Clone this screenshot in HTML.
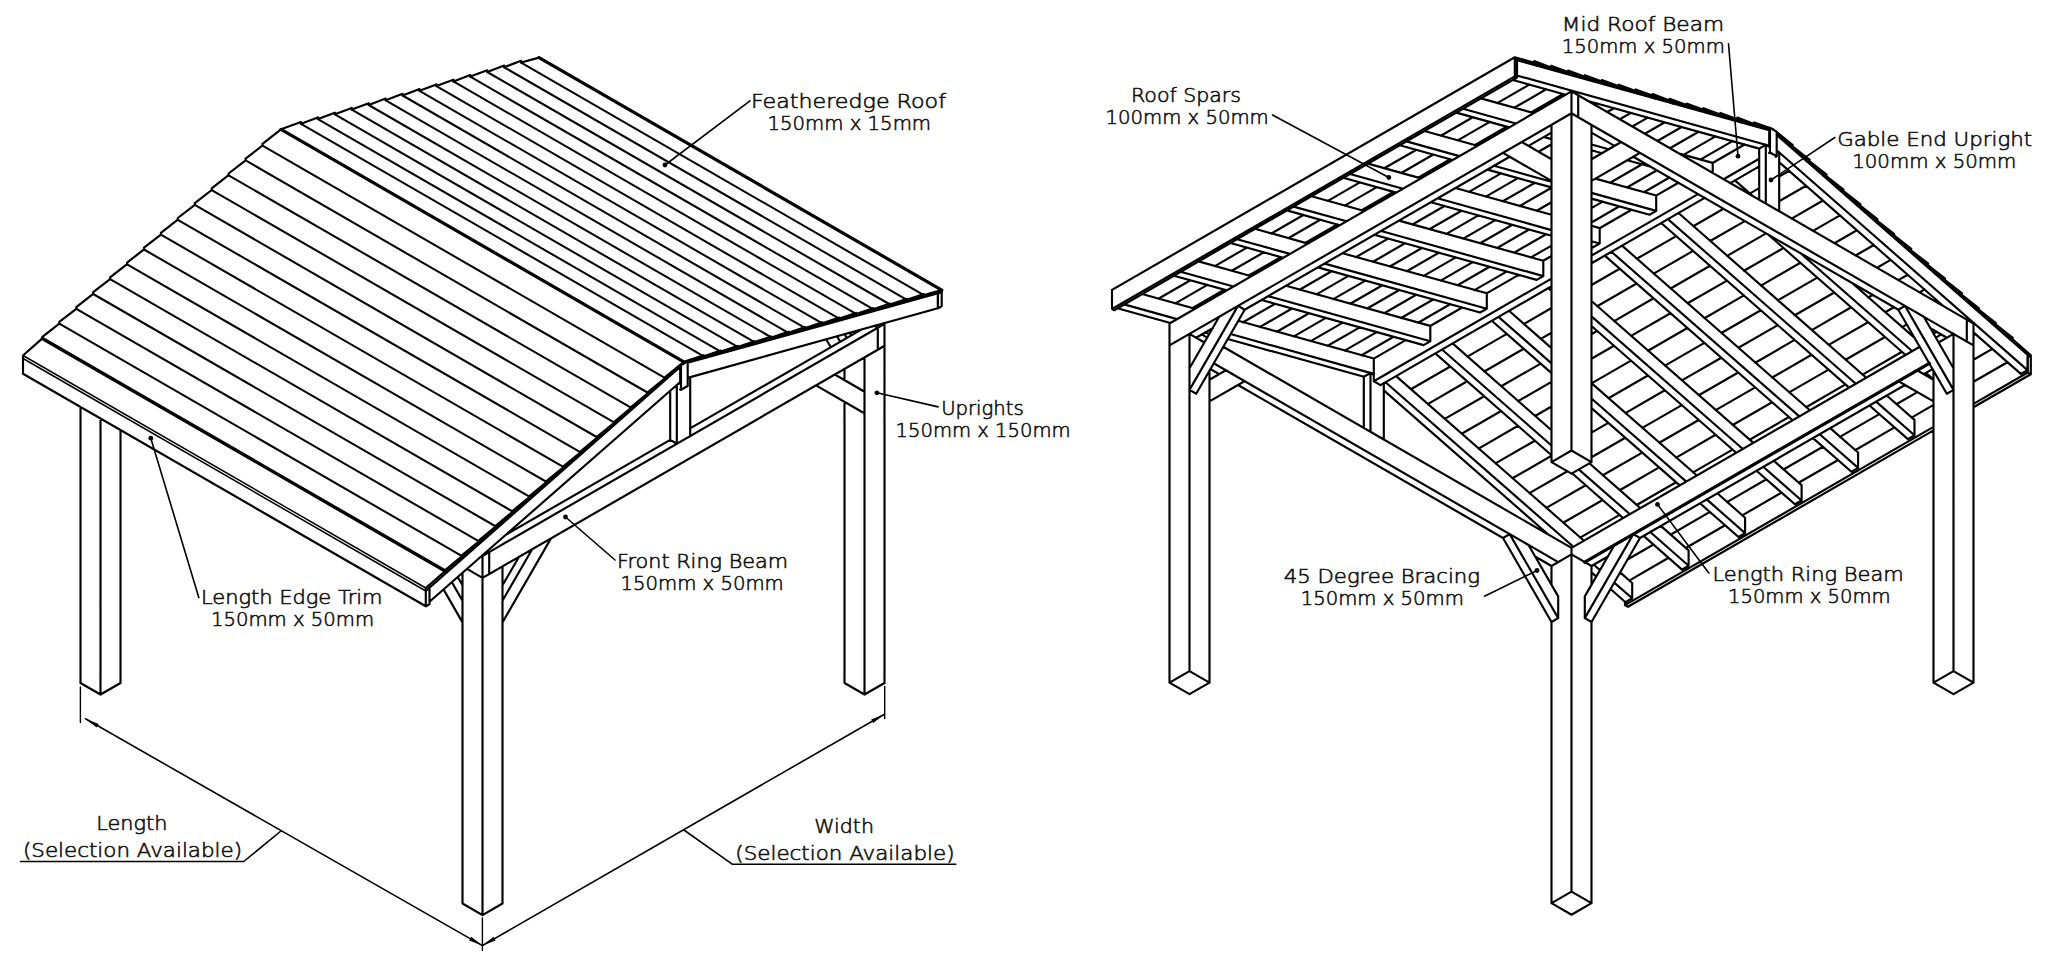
<!DOCTYPE html>
<html><head><meta charset="utf-8"><title>Gazebo specification drawing</title>
<style>
html,body{margin:0;padding:0;background:#fff;}
body{width:2048px;height:959px;overflow:hidden;}
svg{display:block;}
.ln path,.ln line,.ln polyline{fill:none;stroke:#000;stroke-linecap:round;stroke-linejoin:round;}
text{font-family:"DejaVu Sans","Liberation Sans",sans-serif;font-weight:200;fill:#111;}
</style></head><body>
<svg width="2048" height="959" viewBox="0 0 2048 959">
<rect width="2048" height="959" fill="#fff"/>
<g class="ln">
<path d="M80.5 683.0L100.5 694.5M100.5 694.5L120.5 683.0M100.5 418.5L100.5 694.5M80.5 683.0L80.5 406.9M120.5 430.0L120.5 683.0M100.5 418.5L100.5 671.5M462.5 903.5L482.5 915.1M482.5 915.1L502.5 903.5M482.5 577.9L466.9 568.9M502.5 566.4L482.5 577.9M482.5 577.9L482.5 915.1M462.5 903.5L462.5 572.7M502.5 566.4L502.5 903.5M482.5 577.9L482.5 892.0M844.5 683.0L864.5 694.5M864.5 694.5L884.5 683.0M884.5 345.8L864.5 357.4M864.5 357.4L864.5 694.5M844.5 683.0L844.5 401.8M844.5 380.1L844.5 368.9M884.5 345.8L884.5 683.0M864.5 357.4L864.5 671.5M482.5 577.9L489.2 574.1M482.5 556.0L482.0 555.7M489.2 552.1L482.5 556.0M487.3 551.0L489.2 552.1M482.5 556.0L482.5 577.9M489.2 552.1L489.2 574.1M849.0 333.0L852.2 334.9M877.8 349.7L884.5 345.8M877.8 327.7L874.6 325.9M884.5 323.9L877.8 327.7M883.6 323.4L884.5 323.9M877.8 327.7L877.8 349.7M884.5 323.9L884.5 345.8M489.2 574.1L877.8 349.7M877.8 327.7L489.2 552.1M505.7 534.9L670.2 439.9M690.1 428.4L861.3 329.6M482.5 570.2L482.5 556.0M23.0 358.5L23.0 355.5M683.8 361.9L425.8 588.0M683.8 363.0L683.8 361.9M425.8 591.0L680.4 366.8M425.8 588.0L425.8 591.0M683.8 361.9L941.8 290.1M941.8 292.1L687.7 362.8M941.8 290.1L941.8 292.1M23.0 373.8L425.8 606.3M425.8 606.3L429.5 604.2M429.5 588.5L425.8 590.6M428.9 588.2L429.5 588.5M425.8 590.6L425.8 606.3M23.0 373.8L23.0 358.5M429.5 588.5L429.5 604.2M938.0 308.3L941.7 306.2M941.7 291.8L938.0 293.9M938.0 293.9L938.0 308.3M941.7 291.8L941.7 306.2M680.1 389.3L681.0 389.8M681.0 389.8L687.7 386.0M681.0 365.2L680.4 364.9M687.7 361.4L681.0 365.2M687.1 361.0L687.7 361.4M681.0 365.2L681.0 389.8M687.7 361.4L687.7 386.0M680.2 382.0L680.2 367.0M429.5 601.7L680.2 382.0M429.2 587.9L429.2 588.4M937.8 308.3L687.7 377.9M937.8 293.2L937.8 308.3M670.2 439.9L676.8 443.8M676.8 443.8L690.2 436.1M690.2 377.2L687.7 378.7M680.2 383.0L676.8 384.9M676.8 384.9L676.8 443.8M670.2 439.9L670.2 390.7M690.2 377.2L690.2 436.1M462.5 622.4L443.5 589.4M451.8 582.1L462.5 600.7M462.5 600.7L462.5 622.4M462.5 585.3L457.7 577.0M518.9 556.9L502.5 585.3M551.0 538.4L502.5 622.4M532.2 549.2L551.0 538.4M502.5 600.7L532.2 549.2M502.5 622.4L502.5 600.7M844.5 371.1L843.6 369.4M830.8 347.2L826.2 339.3M837.0 336.3L840.2 341.8M846.8 338.0L844.7 334.2M864.5 390.3L864.5 368.6M857.8 409.5L816.0 385.4M834.8 374.5L857.8 387.8M816.0 385.4L864.5 413.4M834.8 374.5L816.0 385.4M864.5 391.7L834.8 374.5M864.5 413.4L864.5 391.7M857.8 409.5L864.5 413.4M864.5 391.7L857.8 387.8M683.8 361.8L665.2 377.1M665.2 378.1L648.3 391.9M648.3 392.9L631.4 406.8M631.4 407.7L614.5 421.6M614.5 422.6L597.5 436.4M597.5 437.4L580.6 451.3M580.6 452.3L563.7 466.1M563.7 467.1L546.7 480.9M546.7 481.9L529.8 495.8M529.8 496.8L512.9 510.6M512.9 511.6L495.9 525.5M495.9 526.4L479.0 540.3M479.0 541.3L462.1 555.1M462.1 556.1L445.2 570.0M445.2 571.0L425.7 588.0M683.8 361.8L703.8 355.3M703.8 356.3L720.7 350.6M720.7 351.6L737.6 345.9M737.6 346.9L754.5 341.2M754.5 342.1L771.5 336.5M771.5 337.4L788.4 331.7M788.4 332.7L805.3 327.0M805.3 328.0L822.3 322.3M822.3 323.3L839.2 317.6M839.2 318.6L856.1 312.9M856.1 313.9L873.1 308.2M873.1 309.2L890.0 303.5M890.0 304.5L906.9 298.8M906.9 299.7L923.8 294.1M923.8 295.0L941.8 290.1M281.0 129.3L262.5 143.9M262.5 143.9L262.5 145.6M262.5 145.5L245.6 158.7M245.6 158.7L245.6 160.4M245.6 160.4L228.6 173.5M228.6 173.5L228.6 175.3M228.6 175.2L211.7 188.4M211.7 188.4L211.7 190.1M211.7 190.0L194.8 203.2M194.8 203.2L194.8 204.9M194.8 204.9L177.8 218.0M177.8 218.0L177.8 219.8M177.8 219.7L160.9 232.9M160.9 232.9L160.9 234.6M160.9 234.6L144.0 247.7M144.0 247.7L144.0 249.5M144.0 249.4L127.1 262.6M127.1 262.6L127.1 264.3M127.1 264.2L110.1 277.4M110.1 277.4L110.1 279.1M110.1 279.1L93.2 292.2M93.2 292.2L93.2 294.0M93.2 293.9L76.3 307.1M76.3 307.1L76.3 308.8M76.3 308.8L59.3 321.9M59.3 321.9L59.3 323.6M59.3 323.6L42.4 336.8M42.4 336.8L42.4 338.5M42.4 338.4L23.0 355.5M281.0 129.3L301.0 122.1M301.0 122.1L301.0 123.8M301.0 123.8L317.9 117.4M317.9 117.4L317.9 119.1M317.9 119.0L334.9 112.7M334.9 112.7L334.9 114.4M334.9 114.3L351.8 107.9M351.8 107.9L351.8 109.7M351.8 109.6L368.7 103.2M368.7 103.2L368.7 105.0M368.7 104.9L385.7 98.5M385.7 98.5L385.7 100.3M385.7 100.2L402.6 93.8M402.6 93.8L402.6 95.5M402.6 95.5L419.5 89.1M419.5 89.1L419.5 90.8M419.5 90.8L436.4 84.4M436.4 84.4L436.4 86.1M436.4 86.1L453.4 79.7M453.4 79.7L453.4 81.4M453.4 81.4L470.3 75.0M470.3 75.0L470.3 76.7M470.3 76.6L487.2 70.3M487.2 70.3L487.2 72.0M487.2 71.9L504.2 65.5M504.2 65.5L504.2 67.3M504.2 67.2L521.1 60.8M521.1 60.8L521.1 62.6M521.1 62.5L539.0 57.6" stroke-width="2.15"/>
<path d="M281.0 129.4L683.8 361.9M539.0 57.6L941.8 290.1" stroke-width="3.22"/>
<path d="M23.0 355.5L425.8 588.0M425.8 591.0L23.0 358.5" stroke-width="1.50"/>
<path d="M262.5 145.6L665.2 378.1M245.6 160.4L648.3 393.0M228.6 175.3L631.4 407.8M211.7 190.1L614.5 422.6M194.8 204.9L597.5 437.5M177.8 219.8L580.6 452.3M160.9 234.6L563.7 467.1M144.0 249.5L546.7 482.0M127.1 264.3L529.8 496.8M110.1 279.1L512.9 511.7M93.2 294.0L495.9 526.5M76.3 308.8L479.0 541.3M59.3 323.6L462.1 556.2M301.0 123.8L703.8 356.3M317.9 119.1L720.7 351.6M334.9 114.4L737.6 346.9M351.8 109.7L754.5 342.2M368.7 105.0L771.5 337.5M385.7 100.3L788.4 332.8M402.6 95.5L805.3 328.1M419.5 90.8L822.3 323.4M436.4 86.1L839.2 318.7M453.4 81.4L856.1 313.9M470.3 76.7L873.1 309.2M487.2 72.0L890.0 304.5M504.2 67.3L906.9 299.8M521.1 62.6L923.8 295.1" stroke-width="2.04"/>
<path d="M42.4 338.5L445.2 571.0" stroke-width="3.44"/>
<path d="M1169.5 682.6L1189.5 671.1M1189.5 671.1L1209.5 682.6M1209.5 682.6L1189.5 694.1M1189.5 694.1L1169.5 682.6M1189.5 333.9L1169.5 345.4M1204.4 342.5L1189.5 333.9M1189.5 333.9L1189.5 671.1M1169.5 682.6L1169.5 345.4M1209.5 370.6L1209.5 682.6M1189.5 357.0L1189.5 671.1M1551.5 903.1L1571.5 891.6M1571.5 891.6L1591.5 903.1M1591.5 903.1L1571.5 914.7M1571.5 914.7L1551.5 903.1M1571.5 554.4L1551.5 566.0M1591.5 566.0L1571.5 554.4M1571.5 554.4L1571.5 891.6M1551.5 903.1L1551.5 621.9M1551.5 584.9L1551.5 566.0M1591.5 566.0L1591.5 584.9M1591.5 621.9L1591.5 903.1M1571.5 577.5L1571.5 891.6M1551.5 462.1L1571.5 450.5M1571.5 450.5L1591.5 462.1M1591.5 462.1L1571.5 473.6M1571.5 473.6L1551.5 462.1M1571.5 113.3L1551.5 124.9M1591.5 124.9L1571.5 113.3M1571.5 113.3L1571.5 450.5M1551.5 462.1L1551.5 124.9M1591.5 124.9L1591.5 462.1M1571.5 136.4L1571.5 450.5M1933.5 682.6L1953.5 671.1M1953.5 671.1L1973.5 682.6M1973.5 682.6L1953.5 694.1M1953.5 694.1L1933.5 682.6M1953.5 333.9L1938.6 342.5M1973.5 345.4L1953.5 333.9M1953.5 333.9L1953.5 671.1M1933.5 682.6L1933.5 370.6M1973.5 345.4L1973.5 682.6M1953.5 357.0L1953.5 671.1M1169.5 345.4L1571.5 113.3M1571.5 113.3L1578.2 117.2M1551.5 132.6L1528.5 145.9M1509.7 156.7L1244.6 309.7M1212.6 328.3L1196.1 337.7M1571.5 91.4L1169.5 323.5M1578.2 95.2L1571.5 91.4M1571.5 91.4L1571.5 113.3M1169.5 345.4L1169.5 323.5M1578.2 95.2L1578.2 117.2M1966.8 341.6L1973.5 345.4M1932.6 369.0L1923.8 374.1M1905.0 385.0L1640.0 538.0M1607.9 556.5L1591.5 566.0M1941.2 334.4L1935.8 337.6M1919.8 346.8L1571.5 547.9M1973.5 323.5L1966.8 319.6M1966.8 319.6L1966.8 341.6M1973.5 323.5L1973.5 345.4M1213.7 363.3L1558.2 562.1M1551.5 566.0L1535.1 556.5M1503.0 538.0L1238.0 385.0M1219.2 374.1L1210.4 369.0M1571.5 547.9L1223.2 346.8M1207.2 337.6L1201.8 334.4M1571.5 547.9L1571.5 554.5M1578.2 117.2L1966.8 341.6M1946.9 337.7L1930.4 328.3M1898.4 309.7L1633.3 156.7M1614.5 145.9L1591.5 132.6M1966.8 319.6L1578.2 95.2M1571.5 113.4L1571.5 99.1M1772.8 129.1L1771.5 128.8M1769.5 128.2L1514.9 57.4M1772.8 129.5L1772.8 129.1M1514.9 59.3L1769.4 130.2M1514.9 57.4L1514.9 59.3M1772.8 129.1L1774.0 130.3M1776.7 132.6L2030.6 355.1M2030.6 357.1L1776.7 134.5M2030.6 355.1L2030.6 357.1M1112.0 308.9L1514.8 76.4M1514.8 76.4L1517.0 77.6M1517.0 77.6L1114.2 310.2M1114.2 310.2L1112.0 308.9M1514.8 57.3L1112.0 289.9M1517.0 58.6L1514.8 57.3M1514.8 57.3L1514.8 76.4M1112.0 308.9L1112.0 289.9M1517.0 58.6L1517.0 77.6M1625.0 605.1L1933.5 426.9M1973.5 403.9L2027.8 372.5M2027.8 372.5L2030.8 374.3M2030.8 374.3L1973.5 407.3M1933.5 430.4L1628.0 606.8M1628.0 606.8L1625.0 605.1M2030.8 355.2L2027.8 353.5M2027.8 353.5L2027.8 372.5M1625.0 605.1L1625.0 601.7M2030.8 355.2L2030.8 374.3M1373.8 381.2L1551.5 278.6M1591.5 255.6L1698.0 194.1M1723.6 179.3L1759.2 158.7M1769.1 153.0L1770.0 152.5M1770.0 152.5L1776.7 156.3M1776.7 156.3L1775.8 156.8M1759.2 166.4L1730.3 183.1M1704.7 197.9L1591.5 263.3M1551.5 286.3L1380.5 385.1M1380.5 385.1L1373.8 381.2M1770.0 127.9L1769.4 128.3M1776.7 131.8L1770.0 127.9M1770.0 127.9L1770.0 152.5M1373.8 381.2L1373.8 358.5M1776.7 131.8L1776.7 156.3M1363.9 376.8L1227.8 339.0M1209.3 333.8L1205.0 332.6M1170.4 323.0L1117.4 308.3M1373.8 358.5L1238.2 320.8M1195.0 308.8L1142.1 294.0M1373.8 373.9L1373.8 358.5M1124.1 304.4L1177.1 319.1M1211.6 328.8L1212.2 328.9M1230.6 334.0L1373.8 373.9M1373.8 373.9L1373.0 374.4M1373.8 366.2L1373.8 374.9M1383.8 390.4L1548.3 534.5M1591.5 572.4L1596.3 576.6M1610.5 589.0L1625.5 602.2M1396.1 376.1L1584.0 540.7M1604.3 558.6L1605.9 559.9M1620.1 572.4L1632.2 583.0M1632.2 598.3L1614.2 582.6M1600.0 570.1L1593.8 564.7M1573.4 546.8L1385.5 382.2M1632.2 583.0L1632.2 598.3M1632.2 598.3L1625.5 602.2M1423.6 345.1L1261.5 300.0M1226.9 290.4L1173.9 275.7M1430.3 325.9L1286.1 285.8M1251.5 276.2L1198.5 261.4M1430.3 341.3L1430.3 325.9M1180.6 271.8L1233.5 286.5M1268.1 296.2L1430.3 341.3M1430.3 341.3L1423.6 345.1M1435.3 353.4L1551.5 455.2M1572.1 473.2L1623.2 518.1M1643.6 535.9L1682.0 569.6M1452.6 343.4L1551.5 430.2M1589.3 463.3L1640.4 508.1M1660.8 525.9L1688.6 550.4M1688.6 565.7L1650.2 532.0M1629.9 514.2L1578.7 469.4M1551.5 445.5L1442.0 349.5M1688.6 550.4L1688.6 565.7M1688.6 565.7L1682.0 569.6M1480.1 312.5L1317.9 267.4M1283.3 257.8L1230.4 243.0M1486.8 293.3L1342.5 253.2M1308.0 243.6L1255.0 228.8M1486.8 308.7L1486.8 293.3M1237.1 239.2L1290.0 253.9M1324.6 263.6L1486.8 308.7M1486.8 308.7L1480.1 312.5M1491.8 320.8L1551.5 373.1M1591.5 408.1L1679.7 485.4M1700.0 503.3L1738.5 537.0M1509.0 310.8L1551.5 348.1M1591.5 383.1L1696.9 475.5M1717.3 493.3L1745.1 517.7M1745.1 533.1L1706.7 499.4M1686.3 481.6L1591.5 398.5M1551.5 363.4L1498.5 316.9M1745.1 517.7L1745.1 533.1M1745.1 533.1L1738.5 537.0M1536.6 279.9L1374.4 234.8M1339.8 225.2L1286.9 210.4M1543.3 260.7L1399.0 220.6M1364.4 211.0L1311.5 196.2M1543.3 276.1L1543.3 260.7M1293.5 206.6L1346.5 221.3M1381.1 231.0L1543.3 276.1M1543.3 276.1L1536.6 279.9M1548.3 288.2L1551.5 291.0M1591.5 326.0L1736.2 452.8M1756.5 470.7L1794.9 504.3M1591.5 301.0L1753.4 442.9M1773.7 460.7L1801.6 485.1M1801.6 500.5L1763.2 466.8M1742.8 449.0L1591.5 316.4M1801.6 485.1L1801.6 500.5M1801.6 500.5L1794.9 504.3M1593.1 247.3L1591.5 246.9M1551.5 235.8L1430.9 202.2M1396.3 192.6L1343.3 177.8M1599.7 228.1L1591.5 225.8M1551.5 214.7L1455.5 188.0M1420.9 178.4L1368.0 163.6M1599.7 243.5L1599.7 228.1M1350.0 174.0L1403.0 188.7M1437.5 198.3L1551.5 230.1M1591.5 241.2L1599.7 243.5M1599.7 243.5L1593.1 247.3M1604.8 255.6L1792.6 420.2M1813.0 438.1L1851.4 471.7M1622.0 245.6L1809.9 410.3M1830.2 428.1L1858.1 452.5M1858.1 467.9L1819.7 434.2M1799.3 416.4L1611.4 251.7M1858.1 452.5L1858.1 467.9M1858.1 467.9L1851.4 471.7M1649.5 214.7L1591.5 198.6M1551.5 187.4L1487.4 169.6M1452.8 160.0L1399.8 145.2M1656.2 195.5L1595.4 178.6M1477.4 145.8L1424.4 131.0M1656.2 210.9L1656.2 195.5M1406.5 141.4L1459.4 156.1M1494.0 165.7L1551.5 181.7M1591.5 192.9L1656.2 210.9M1656.2 210.9L1649.5 214.7M1661.2 223.0L1849.1 387.6M1869.5 405.5L1907.9 439.1M1678.5 213.0L1866.3 377.7M1886.7 395.5L1914.5 419.9M1914.5 435.3L1876.1 401.6M1855.8 383.8L1667.9 219.1M1914.5 419.9L1914.5 435.3M1914.5 435.3L1907.9 439.1M1650.7 166.7L1627.3 160.2M1601.9 153.2L1591.5 150.2M1551.5 139.1L1543.8 137.0M1509.2 127.4L1456.3 112.6M1712.7 162.9L1679.2 153.6M1533.9 113.1L1480.9 98.4M1712.7 172.9L1712.7 162.9M1463.0 108.8L1515.9 123.5M1550.5 133.1L1551.5 133.4M1591.5 144.5L1608.6 149.3M1768.1 234.5L1905.6 355.0M1925.9 372.9L1933.5 379.5M1734.9 180.4L1752.9 196.1M1851.8 282.8L1914.6 337.9M1912.3 351.2L1800.5 253.2M1759.2 148.6L1588.0 101.0M1565.7 94.8L1512.8 80.0M1769.2 130.3L1516.9 60.1M1769.2 145.7L1769.2 130.3M1516.9 75.5L1769.2 145.7M1769.2 145.7L1768.3 146.2M1779.1 162.1L1943.6 306.3M1973.5 332.4L2020.8 373.9M1776.7 134.9L2027.5 354.7M2027.5 370.1L1776.7 150.2M2027.5 354.7L2027.5 370.1M2027.5 370.1L2020.8 373.9M1370.5 431.8L1383.8 439.5M1370.5 373.0L1363.8 376.8M1373.9 374.9L1370.5 373.0M1370.5 373.0L1370.5 431.8M1363.8 428.0L1363.8 376.8M1383.8 383.1L1383.8 439.5M1765.8 203.6L1779.2 211.3M1765.8 144.7L1759.2 148.6M1779.2 152.4L1776.7 151.0M1769.2 146.7L1765.8 144.7M1765.8 144.7L1765.8 203.6M1759.2 199.8L1759.2 148.6M1779.2 152.4L1779.2 211.3M1189.5 389.9L1238.0 305.9M1238.0 305.9L1219.2 316.7M1219.2 316.7L1189.5 368.2M1189.5 368.2L1189.5 389.9M1244.7 309.7L1196.2 393.7M1244.7 309.7L1238.0 305.9M1189.5 389.9L1196.2 393.7M1209.5 401.4L1238.0 385.0M1219.2 374.1L1209.5 379.7M1189.5 391.3L1189.5 413.0M1244.7 381.1L1209.5 401.4M1225.9 370.3L1244.7 381.1M1209.5 379.7L1225.9 370.3M1244.7 381.1L1238.0 385.0M1225.9 370.3L1219.2 374.1M1584.8 618.1L1633.3 534.1M1633.3 534.1L1614.5 545.0M1614.5 545.0L1584.8 596.4M1584.8 596.4L1584.8 618.1M1640.0 538.0L1591.5 622.0M1640.0 538.0L1633.3 534.1M1584.8 618.1L1591.5 622.0M1551.5 622.0L1503.0 538.0M1509.7 534.1L1558.2 618.1M1528.5 545.0L1509.7 534.1M1558.2 596.4L1528.5 545.0M1558.2 618.1L1558.2 596.4M1509.7 534.1L1503.0 538.0M1551.5 622.0L1558.2 618.1M1551.5 180.9L1503.0 152.9M1503.0 152.9L1521.8 142.0M1521.8 142.0L1551.5 159.2M1551.5 159.2L1551.5 180.9M1509.7 156.7L1551.5 180.9M1551.5 159.2L1528.5 145.9M1509.7 156.7L1503.0 152.9M1528.5 145.9L1521.8 142.0M1591.5 180.9L1633.3 156.7M1614.5 145.9L1591.5 159.2M1640.0 152.9L1591.5 180.9M1621.2 142.0L1640.0 152.9M1591.5 159.2L1621.2 142.0M1591.5 180.9L1591.5 159.2M1640.0 152.9L1633.3 156.7M1621.2 142.0L1614.5 145.9M1933.5 401.4L1898.3 381.1M1898.3 381.1L1917.1 370.3M1917.1 370.3L1933.5 379.7M1905.0 385.0L1933.5 401.4M1933.5 379.7L1923.8 374.1M1953.5 413.0L1953.5 391.3M1905.0 385.0L1898.3 381.1M1923.8 374.1L1917.1 370.3M1946.8 393.7L1898.3 309.7M1905.0 305.9L1953.5 389.9M1923.8 316.7L1905.0 305.9M1953.5 368.2L1923.8 316.7M1953.5 389.9L1953.5 368.2M1905.0 305.9L1898.3 309.7M1946.8 393.7L1953.5 389.9M1361.6 355.3L1393.6 336.8M1418.1 322.7L1450.1 304.2M1474.5 290.1L1506.6 271.6M1531.0 257.4L1551.5 245.6M1591.5 222.5L1619.5 206.3M1644.0 192.2L1669.4 177.5M1700.4 159.6L1732.5 141.1M1756.9 127.0L1757.3 126.8M1344.7 350.6L1376.7 332.1M1401.1 318.0L1433.2 299.5M1457.6 285.3L1489.6 266.8M1514.1 252.7L1546.1 234.2M1591.5 208.1L1602.6 201.6M1627.0 187.5L1656.9 170.3M1683.5 154.9L1715.5 136.4M1740.0 122.3L1740.4 122.1M1327.7 345.8L1359.8 327.4M1384.2 313.2L1416.2 294.7M1440.7 280.6L1472.7 262.1M1497.2 248.0L1529.2 229.5M1610.1 182.8L1642.1 164.3M1670.0 148.3L1698.6 131.7M1723.1 117.6L1723.5 117.4M1310.8 341.1L1342.8 322.6M1367.3 308.5L1399.3 290.0M1423.7 275.9L1455.8 257.4M1480.2 243.3L1512.3 224.8M1536.7 210.7L1551.5 202.2M1657.4 141.0L1681.7 127.0M1706.1 112.9L1706.5 112.7M1293.9 336.4L1325.9 317.9M1350.3 303.8L1382.4 285.3M1406.8 271.2L1438.9 252.7M1463.3 238.6L1495.3 220.1M1519.8 206.0L1551.5 187.7M1644.9 133.8L1664.8 122.3M1689.2 108.2L1689.6 107.9M1276.9 331.7L1309.0 313.2M1333.4 299.1L1365.4 280.6M1389.9 266.5L1421.9 248.0M1446.4 233.9L1478.4 215.4M1502.8 201.3L1534.9 182.8M1632.3 126.5L1647.8 117.6M1672.3 103.5L1672.7 103.2M1260.0 327.0L1292.0 308.5M1316.5 294.4L1348.5 275.9M1373.0 261.8L1405.0 243.3M1429.4 229.2L1461.5 210.7M1485.9 196.6L1517.9 178.1M1551.1 158.9L1551.5 158.7M1619.8 119.3L1630.9 112.9M1655.3 98.8L1655.7 98.5M1243.1 322.3L1275.1 303.8M1299.6 289.7L1331.6 271.2M1356.0 257.1L1388.1 238.6M1412.5 224.5L1444.5 206.0M1469.0 191.9L1501.0 173.4M1538.5 151.7L1551.5 144.2M1607.2 112.0L1614.0 108.2M1638.4 94.0L1638.8 93.8M1594.7 104.8L1597.0 103.4M1621.5 89.3L1621.9 89.1M1604.6 84.6L1605.0 84.4M1192.3 308.2L1224.3 289.7M1248.8 275.5L1280.8 257.1M1305.2 242.9L1337.3 224.4M1361.7 210.3L1393.8 191.8M1418.2 177.7L1450.2 159.2M1474.7 145.1L1506.7 126.6M1531.1 112.5L1563.2 94.0M1587.6 79.9L1588.0 79.7M1175.4 303.4L1207.4 284.9M1231.8 270.8L1263.9 252.3M1288.3 238.2L1320.3 219.7M1344.8 205.6L1376.8 187.1M1401.3 173.0L1433.3 154.5M1457.7 140.4L1489.8 121.9M1514.2 107.8L1546.2 89.3M1570.7 75.2L1571.1 75.0M1158.4 298.7L1190.5 280.2M1214.9 266.1L1246.9 247.6M1271.4 233.5L1303.4 215.0M1327.9 200.9L1359.9 182.4M1384.3 168.3L1416.4 149.8M1440.8 135.7L1472.8 117.2M1497.3 103.1L1529.3 84.6M1553.8 70.5L1554.2 70.3M1536.8 65.8L1537.2 65.5M1789.3 146.2L1789.7 145.9M1410.9 389.2L1450.3 366.5M1467.4 356.6L1506.8 333.9M1523.8 324.0L1551.5 308.0M1591.5 285.0L1619.7 268.7M1636.8 258.8L1676.2 236.1M1693.3 226.2L1723.5 208.8M1749.7 193.6L1759.2 188.1M1779.1 176.6L1789.1 170.8M1806.2 161.0L1806.6 160.8M1427.8 404.1L1467.2 381.3M1484.3 371.5L1523.7 348.7M1540.8 338.9L1551.5 332.7M1597.2 306.3L1636.6 283.5M1653.7 273.6L1693.1 250.9M1710.2 241.0L1744.8 221.1M1779.1 201.2L1806.1 185.7M1823.1 175.8L1823.5 175.6M1444.7 418.9L1484.2 396.2M1501.2 386.3L1540.6 363.6M1591.5 334.2L1597.1 330.9M1614.2 321.1L1653.6 298.3M1670.6 288.5L1710.1 265.7M1727.1 255.9L1766.1 233.4M1791.7 218.6L1823.0 200.5M1840.1 190.7L1840.5 190.4M1461.7 433.8L1501.1 411.0M1518.1 401.1L1551.5 381.9M1591.5 358.8L1614.0 345.8M1631.1 335.9L1670.5 313.2M1687.6 303.3L1727.0 280.6M1744.0 270.7L1783.5 248.0M1813.1 230.9L1839.9 215.4M1857.0 205.5L1857.4 205.3M1478.6 448.6L1518.0 425.8M1535.1 416.0L1551.5 406.5M1591.5 383.4L1631.0 360.6M1648.0 350.8L1687.4 328.0M1704.5 318.2L1743.9 295.4M1761.0 285.6L1800.4 262.8M1834.4 243.2L1856.9 230.2M1873.9 220.3L1874.3 220.1M1495.5 463.4L1534.9 440.7M1608.5 398.2L1647.9 375.5M1665.0 365.6L1704.4 342.9M1721.4 333.0L1760.8 310.2M1777.9 300.4L1817.3 277.6M1855.7 255.5L1873.8 245.0M1890.9 235.2L1891.3 235.0M1512.5 478.3L1551.5 455.7M1591.5 432.6L1608.3 422.9M1625.4 413.1L1664.8 390.3M1681.9 380.4L1721.3 357.7M1738.4 347.8L1777.8 325.1M1794.8 315.2L1834.3 292.5M1877.0 267.8L1890.7 259.9M1907.8 250.0L1908.2 249.8M1529.4 493.1L1567.4 471.2M1591.5 457.3L1625.3 437.7M1642.3 427.9L1681.8 405.1M1698.8 395.3L1738.2 372.5M1755.3 362.7L1794.7 339.9M1811.8 330.1L1851.2 307.3M1868.2 297.5L1872.7 294.9M1898.3 280.1L1907.7 274.7M1924.7 264.9L1925.1 264.6M1546.3 507.9L1585.7 485.2M1602.8 475.3L1642.2 452.6M1659.3 442.7L1698.7 420.0M1715.7 410.1L1755.2 387.4M1772.2 377.5L1811.6 354.8M1828.7 344.9L1868.1 322.2M1885.2 312.3L1894.0 307.2M1919.6 292.4L1924.6 289.5M1941.6 279.7L1942.1 279.5M1563.2 522.8L1602.7 500.0M1619.7 490.2L1659.1 467.4M1676.2 457.6L1715.6 434.8M1732.7 425.0L1772.1 402.2M1789.2 392.4L1828.6 369.6M1845.6 359.7L1885.0 337.0M1902.1 327.1L1906.8 324.4M1940.9 304.7L1941.5 304.4M1958.6 294.5L1959.0 294.3M1580.2 537.6L1619.6 514.9M1636.7 505.0L1676.1 482.3M1693.1 472.4L1732.5 449.6M1749.6 439.8L1789.0 417.0M1806.1 407.2L1845.5 384.4M1862.6 374.6L1902.0 351.8M1933.5 333.6L1936.6 331.8M1975.5 309.4L1975.9 309.1M1973.5 335.2L1975.4 334.1M1992.4 324.2L1992.8 324.0M1627.6 559.5L1653.5 544.5M1670.5 534.7L1709.9 511.9M1727.0 502.1L1766.4 479.3M1783.5 469.5L1822.9 446.7M1839.9 436.9L1879.4 414.1M1896.4 404.3L1917.4 392.1M1973.5 359.8L1992.3 348.9M2009.4 339.0L2009.8 338.8M1629.2 580.6L1668.6 557.8M1685.7 548.0L1725.1 525.2M1742.2 515.4L1781.6 492.6M1798.6 482.8L1838.1 460.0M1855.1 450.2L1894.5 427.4M1911.6 417.6L1933.5 404.9M1973.5 381.8L2007.5 362.2M2024.5 352.3L2025.0 352.1M1772.8 129.1L1770.7 128.3M1769.9 128.0L1754.2 122.4M1754.2 123.9L1737.3 117.6M1737.3 119.2L1720.4 112.9M1720.4 114.5L1703.5 108.2M1703.5 109.8L1686.5 103.5M1686.5 105.1L1669.6 98.8M1669.6 100.4L1652.7 94.1M1652.7 95.6L1635.7 89.4M1635.7 90.9L1618.8 84.7M1618.8 86.2L1601.9 80.0M1601.9 81.5L1585.0 75.2M1585.0 76.8L1568.0 70.5M1568.0 72.1L1551.1 65.8M1551.1 67.4L1534.2 61.1M1534.2 62.7L1514.8 57.3M1772.8 129.1L1774.8 130.7M1776.7 132.2L1792.8 145.0M1792.8 146.6L1809.7 159.9M1809.7 161.4L1826.6 174.7M1826.6 176.3L1843.5 189.5M1843.5 191.1L1860.5 204.4M1860.5 205.9L1877.4 219.2M1877.4 220.8L1894.3 234.1M1894.3 235.6L1911.3 248.9M1911.3 250.5L1928.2 263.7M1928.2 265.3L1945.1 278.6M1945.1 280.1L1962.1 293.4M1962.1 295.0L1979.0 308.3M1979.0 309.8L1995.9 323.1M1995.9 324.6L2012.8 337.9M2012.8 339.5L2030.8 355.2M1373.8 358.6L1405.7 340.1M1430.2 326.0L1462.2 307.5M1486.6 293.4L1518.7 274.9M1543.1 260.8L1551.5 256.0M1599.6 228.2L1631.6 209.7M1656.1 195.6L1678.4 182.7M1712.6 163.0L1744.6 144.5M1769.0 130.4L1769.4 130.2" stroke-width="2.15"/>
<path d="M1584.8 562.1L1929.3 363.3" stroke-width="3.22"/>
</g>
<g class="ln" stroke-width="1.6">
<line x1="750.0" y1="100.8" x2="665.0" y2="165.0" stroke-width="1.6"/>
<line x1="938.1" y1="406.9" x2="876.9" y2="392.8" stroke-width="1.6"/>
<line x1="615.0" y1="560.0" x2="565.5" y2="517.0" stroke-width="1.6"/>
<line x1="198.8" y1="597.5" x2="150.8" y2="438.2" stroke-width="1.6"/>
<line x1="1272.5" y1="115.0" x2="1388.8" y2="177.5" stroke-width="1.6"/>
<line x1="1728.5" y1="43.8" x2="1738.0" y2="156.2" stroke-width="1.6"/>
<line x1="1834.8" y1="137.5" x2="1771.0" y2="180.0" stroke-width="1.6"/>
<line x1="1484.5" y1="596.2" x2="1537.0" y2="570.5" stroke-width="1.6"/>
<line x1="1708.8" y1="573.0" x2="1657.5" y2="504.4" stroke-width="1.6"/>
<line x1="85.5" y1="718.8" x2="482.4" y2="945.6" stroke-width="1.6"/>
<line x1="482.4" y1="945.6" x2="884.4" y2="714.2" stroke-width="1.6"/>
<line x1="80.4" y1="687.0" x2="80.4" y2="722.5" stroke-width="1.4"/>
<line x1="482.4" y1="918.0" x2="482.4" y2="950.5" stroke-width="1.4"/>
<line x1="884.7" y1="686.5" x2="884.7" y2="718.5" stroke-width="1.4"/>
<polyline points="20.5,861.5 243.75,861.5 281.25,830.75" stroke-width="1.6"/>
<polyline points="955.8,864.2 732.2,864.2 683.9,830" stroke-width="1.6"/>
</g>
<polygon points="85.5,718.8 96.6,727.6 98.7,723.9" fill="#000"/>
<polygon points="482.4,945.6 471.3,936.8 469.2,940.5" fill="#000"/>
<polygon points="482.4,945.6 495.6,940.4 493.5,936.8" fill="#000"/>
<polygon points="884.4,714.2 871.2,719.4 873.3,723.0" fill="#000"/>
<circle cx="665.0" cy="165.0" r="2.4" fill="#000"/>
<circle cx="876.9" cy="392.8" r="2.4" fill="#000"/>
<circle cx="565.5" cy="517.0" r="2.4" fill="#000"/>
<circle cx="150.8" cy="438.2" r="2.4" fill="#000"/>
<circle cx="1388.8" cy="177.5" r="2.4" fill="#000"/>
<circle cx="1738.0" cy="156.2" r="2.4" fill="#000"/>
<circle cx="1771.0" cy="180.0" r="2.4" fill="#000"/>
<circle cx="1537.0" cy="570.5" r="2.4" fill="#000"/>
<circle cx="1657.5" cy="504.4" r="2.4" fill="#000"/>
<g font-size="19.7" stroke="#111" stroke-width="0.6">
<text x="751.0" y="108.0" textLength="195.0" lengthAdjust="spacingAndGlyphs">Featheredge Roof</text>
<text x="767.5" y="130.0" textLength="163.5" lengthAdjust="spacingAndGlyphs">150mm x 15mm</text>
<text x="941.2" y="415.0" textLength="82.5" lengthAdjust="spacingAndGlyphs">Uprights</text>
<text x="895.6" y="436.9" textLength="175.0" lengthAdjust="spacingAndGlyphs">150mm x 150mm</text>
<text x="617.0" y="568.2" textLength="171.0" lengthAdjust="spacingAndGlyphs">Front Ring Beam</text>
<text x="620.5" y="590.0" textLength="163.2" lengthAdjust="spacingAndGlyphs">150mm x 50mm</text>
<text x="201.0" y="604.2" textLength="181.5" lengthAdjust="spacingAndGlyphs">Length Edge Trim</text>
<text x="211.0" y="626.2" textLength="163.0" lengthAdjust="spacingAndGlyphs">150mm x 50mm</text>
<text x="96.2" y="830.2" textLength="71.2" lengthAdjust="spacingAndGlyphs">Length</text>
<text x="23.0" y="856.5" textLength="219.0" lengthAdjust="spacingAndGlyphs">(Selection Available)</text>
<text x="814.2" y="833.0" textLength="59.8" lengthAdjust="spacingAndGlyphs">Width</text>
<text x="735.3" y="859.5" textLength="219.2" lengthAdjust="spacingAndGlyphs">(Selection Available)</text>
<text x="1131.0" y="102.0" textLength="110.0" lengthAdjust="spacingAndGlyphs">Roof Spars</text>
<text x="1105.5" y="123.8" textLength="163.2" lengthAdjust="spacingAndGlyphs">100mm x 50mm</text>
<text x="1561.8" y="30.5" textLength="162.2" lengthAdjust="spacingAndGlyphs">Mid Roof Beam</text>
<text x="1561.8" y="52.5" textLength="163.0" lengthAdjust="spacingAndGlyphs">150mm x 50mm</text>
<text x="1837.2" y="146.2" textLength="195.0" lengthAdjust="spacingAndGlyphs">Gable End Upright</text>
<text x="1852.2" y="168.0" textLength="164.2" lengthAdjust="spacingAndGlyphs">100mm x 50mm</text>
<text x="1283.8" y="582.5" textLength="196.2" lengthAdjust="spacingAndGlyphs">45 Degree Bracing</text>
<text x="1300.8" y="604.5" textLength="163.0" lengthAdjust="spacingAndGlyphs">150mm x 50mm</text>
<text x="1712.5" y="581.2" textLength="191.2" lengthAdjust="spacingAndGlyphs">Length Ring Beam</text>
<text x="1728.0" y="602.5" textLength="162.6" lengthAdjust="spacingAndGlyphs">150mm x 50mm</text>
</g>
</svg>
</body></html>
